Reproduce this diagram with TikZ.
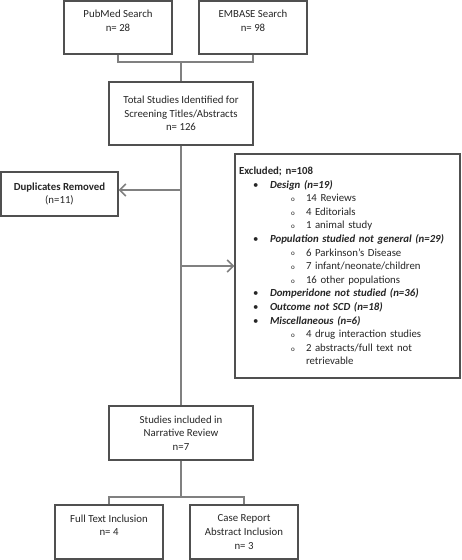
\documentclass[tikz,border=0pt]{standalone}
\usepackage{fontspec}
\setmainfont{Carlito}
\usetikzlibrary{arrows.meta,shadows}
\definecolor{boxline}{HTML}{505050}
\definecolor{connline}{HTML}{808080}
\definecolor{txt}{HTML}{262626}
\newcommand{\lvlone}[1]{\hspace*{14pt}\makebox[17pt][l]{\textbullet}\textbf{\textit{#1}}}
\newcommand{\lvltwo}[1]{\hspace*{52pt}\makebox[15pt][l]{\raisebox{0.3pt}{\scriptsize o}}#1}
\newcommand{\lvlcont}[1]{\hspace*{67pt}#1}
\begin{document}
\begin{tikzpicture}[x=1pt,y=-1pt,
  every node/.style={text=txt,font=\fontsize{10.8}{13.6}\selectfont},
  flowbox/.style={draw=boxline,line width=1.4pt,fill=white,rectangle,align=center,
    inner sep=4pt,drop shadow={opacity=0.18,shadow xshift=1.2pt,shadow yshift=-1.2pt}},
  conn/.style={draw=connline,line width=2.3pt},
  arr/.style={conn,-{Straight Barb[length=6pt,width=12pt,line width=1.6pt]}}]
\useasboundingbox (0,0) rectangle (461,560);
\node[flowbox,minimum width=108pt,minimum height=53pt] (pub) at (118,27.5) {PubMed Search\\n= 28\\\mbox{}};
\node[flowbox,minimum width=108pt,minimum height=53pt] (emb) at (253,27.5) {EMBASE Search\\n= 98\\\mbox{}};
\node[flowbox,minimum width=144pt,minimum height=63pt] (total) at (181,113.5) {Total Studies Identified for\\Screening Titles/Abstracts\\n= 126};
\node[flowbox,minimum width=117pt,minimum height=44pt] (dup) at (59.5,194) {\textbf{Duplicates Removed}\\(n=11)};
\node[flowbox,minimum width=225pt,minimum height=224pt,text width=217pt,align=left] (excl) at (347.5,266) {%
\textbf{Excluded; n=108}\\
\lvlone{Design (n=19)}\\
\lvltwo{14 Reviews}\\
\lvltwo{4 Editorials}\\
\lvltwo{1 animal study}\\
\lvlone{Population studied not general (n=29)}\\
\lvltwo{6 Parkinson’s Disease}\\
\lvltwo{7 infant/neonate/children}\\
\lvltwo{16 other populations}\\
\lvlone{Domperidone not studied (n=36)}\\
\lvlone{Outcome not SCD (n=18)}\\
\lvlone{Miscellaneous (n=6)}\\
\lvltwo{4 drug interaction studies}\\
\lvltwo{2 abstracts/full text not}\\
\lvlcont{retrievable}};
\node[flowbox,minimum width=144pt,minimum height=54pt] (stud) at (181,433) {Studies included in\\Narrative Review\\n=7};
\node[flowbox,minimum width=108pt,minimum height=54pt] (full) at (109,532) {Full Text Inclusion\\n= 4\\\mbox{}};
\node[flowbox,minimum width=108pt,minimum height=54pt] (case) at (244,532) {Case Report\\Abstract Inclusion\\n= 3};
\coordinate (j1) at (181,62);
\coordinate (j2) at (181,497);
\draw[conn] (pub.south) |- (j1) -| (emb.south);
\draw[conn] (j1) -- (total.north);
\draw[conn] (total.south) -- (stud.north);
\coordinate (dupin) at ([yshift=4pt]dup.east);
\draw[arr] (dupin -| total.south) -- (dupin);
\draw[arr] (excl.west -| total.south) -- (excl.west);
\draw[conn] (stud.south) -- (j2);
\draw[conn] (full.north) |- (j2) -| (case.north);
\end{tikzpicture}
\end{document}
